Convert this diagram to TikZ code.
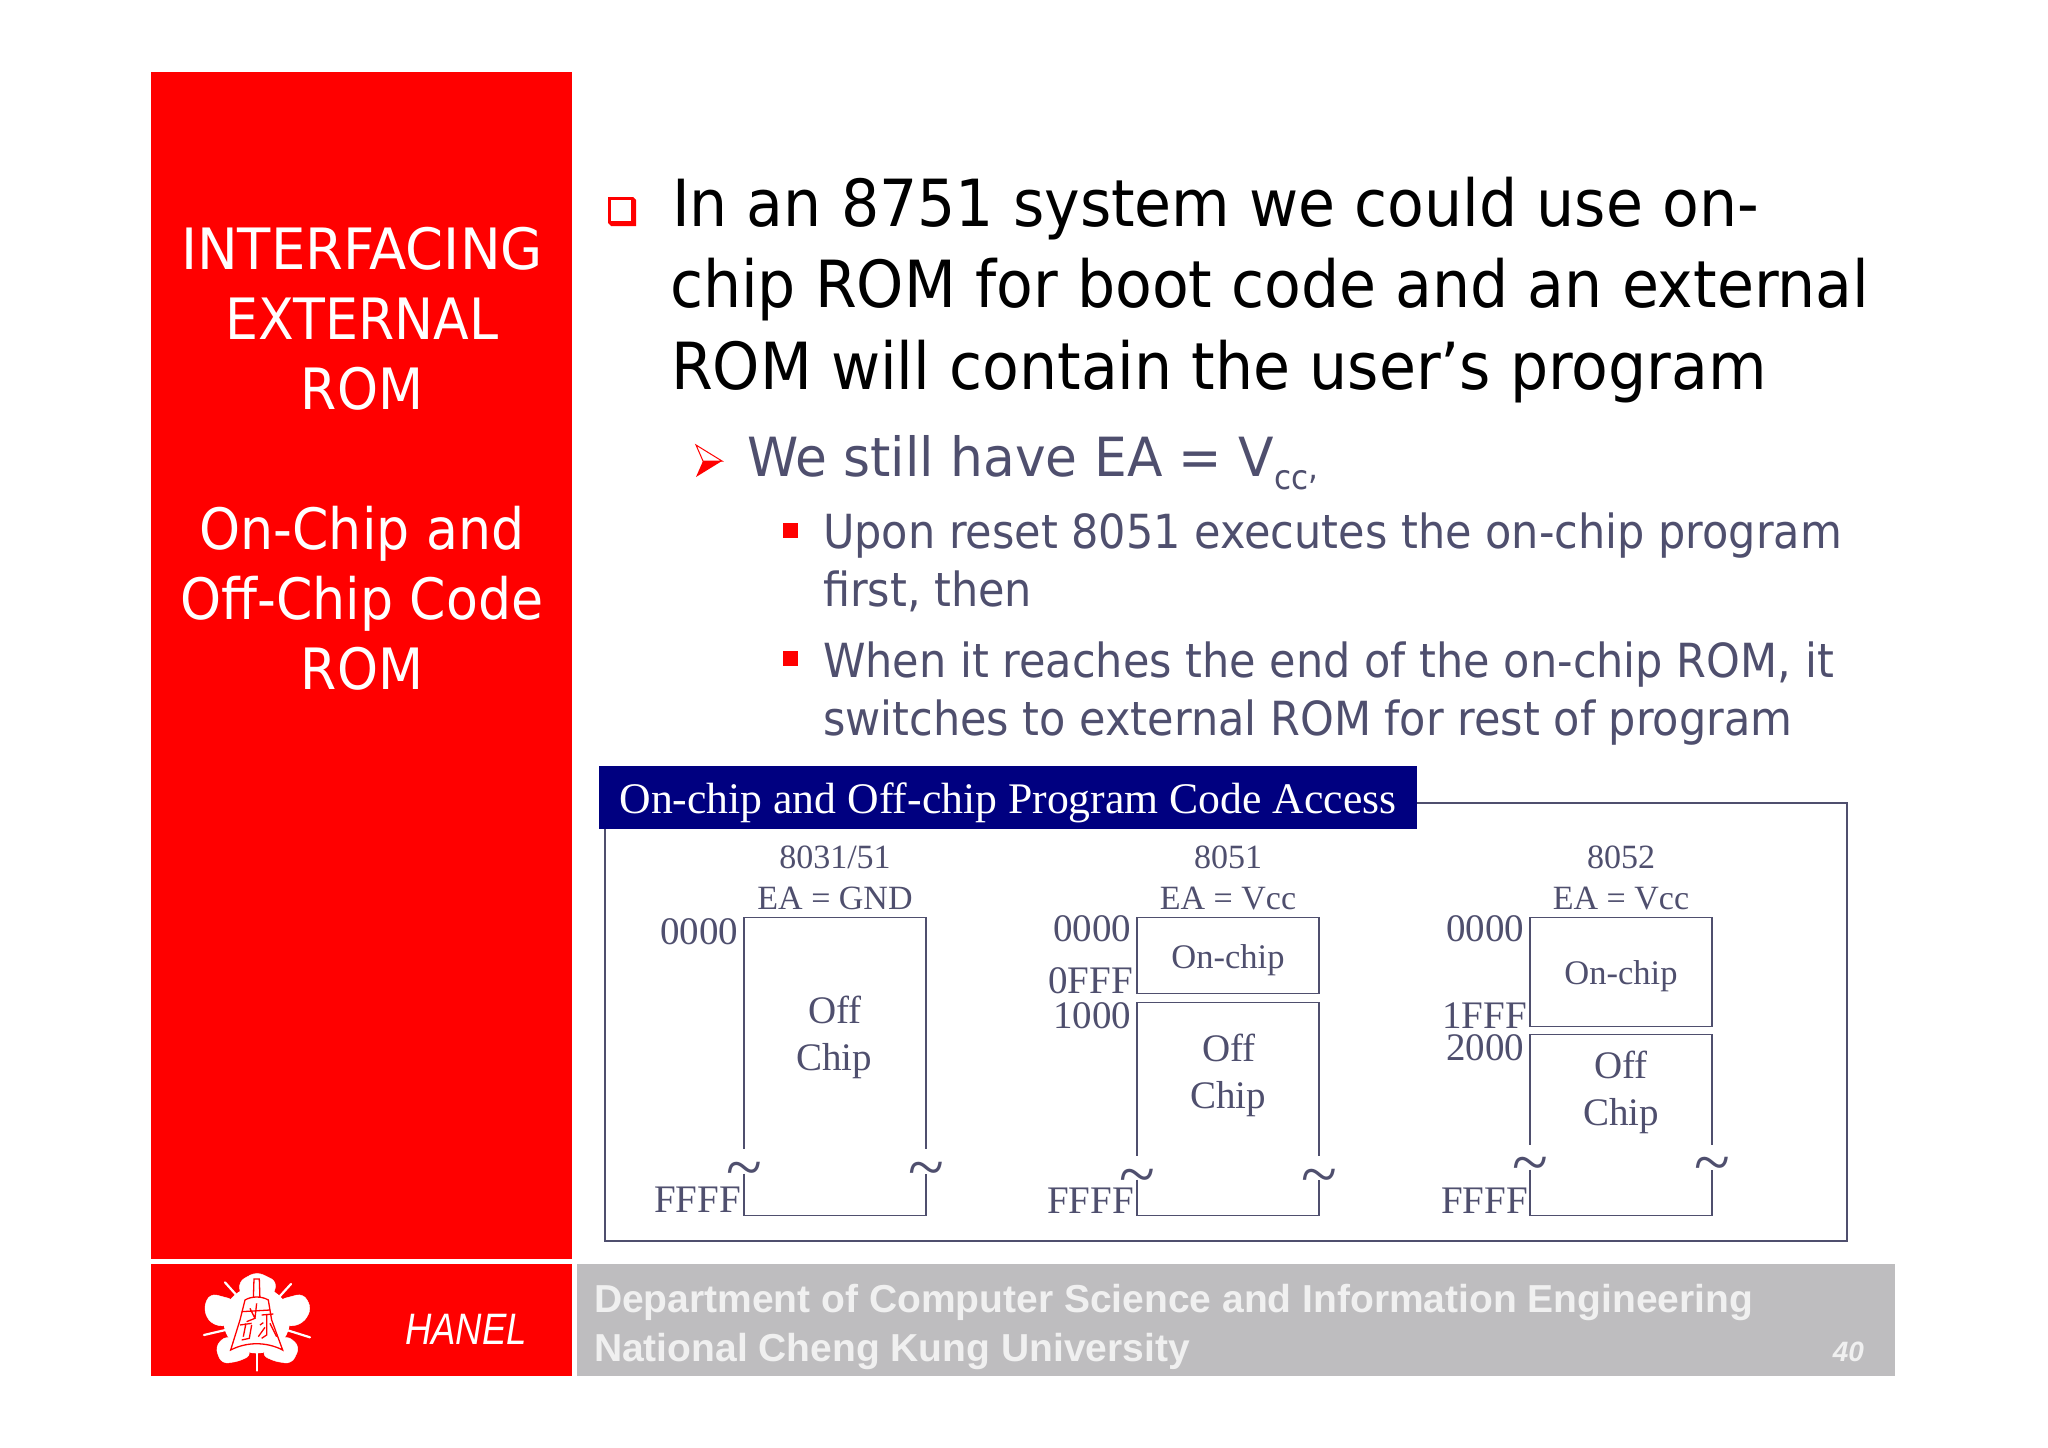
\documentclass[tikz,border=0pt]{standalone}
\usepackage{fontspec}
\setmainfont{Liberation Serif}
\newfontfamily\tahA[FakeStretch=0.925]{DejaVu Sans}
\newfontfamily\tahB[FakeStretch=0.96]{DejaVu Sans}
\newfontfamily\tahC[FakeStretch=0.915]{DejaVu Sans}
\newfontfamily\tahS[FakeStretch=0.915]{DejaVu Sans}
\newfontfamily\tahW[FakeStretch=0.955]{DejaVu Sans}
\newfontfamily\arialb{Liberation Sans}
\newfontfamily\arialn[FakeStretch=0.83]{Liberation Sans}
\newcommand{\fs}[1]{\fontsize{#1}{#1}\selectfont}
\definecolor{slate}{HTML}{4F4F6E}
\definecolor{navyb}{HTML}{000080}
\definecolor{footg}{HTML}{BEBDBF}
\definecolor{redp}{HTML}{FF0000}
\tikzset{
 txt/.style={inner sep=0pt,outer sep=0pt,anchor=base west},
 l1/.style={txt,font=\tahA\fs{65},text=black},
 l2/.style={txt,font=\tahB\fs{54},text=slate},
 l3/.style={txt,font=\tahC\fs{47},text=slate},
 side/.style={inner sep=0pt,outer sep=0pt,anchor=base,font=\tahS\fs{57},text=white},
 addr/.style={inner sep=0pt,outer sep=0pt,anchor=base east,font=\fs{39},text=slate},
 head/.style={inner sep=0pt,outer sep=0pt,anchor=base,font=\fs{34},text=slate},
 chip/.style={inner sep=0pt,outer sep=0pt,anchor=base,font=\fs{39},text=slate},
 onc/.style={inner sep=0pt,outer sep=0pt,anchor=base,font=\fs{34.5},text=slate},
 brk/.style={inner sep=0pt,outer sep=0pt,anchor=center,font=\fs{66},text=slate},
 mem/.style={draw=slate,line width=1.6pt},
 foot/.style={inner sep=0pt,outer sep=0pt,anchor=base west,font=\arialb\bfseries\fs{39},text=white!94!black},
 lg/.style={draw=white,line width=2.2pt,line cap=round},
 lr/.style={draw=redp,line width=1.3pt},
 petal/.style={fill=white,draw=white,rounded corners=7pt},
}
\begin{document}
\begin{tikzpicture}[x=1pt,y=-1pt]
\useasboundingbox[fill=white] (0,0) rectangle (2048,1448);
% panels
\fill[redp] (151,72) rectangle (572,1259);
\fill[redp] (151,1264) rectangle (572,1376);
\fill[footg] (577,1264) rectangle (1895,1376);
% side text
\node[side,font=\tahW\fs{57}] (s1) at (362,269) {INTERFACING};
\node[side] (s2) at (362,339) {EXTERNAL};
\node[side] (s3) at (362,409) {ROM};
\node[side] (s4) at (362,549) {On-Chip and};
\node[side] (s5) at (362,619) {Off-Chip Code};
\node[side] (s6) at (362,689) {ROM};
% body text
\node[l1] (a1) at (672,226) {In an 8751 system we could use on-};
\node[l1] (a2) at (670,307) {chip ROM for boot code and an external};
\node[l1] (a3) at (671,389) {ROM will contain the user’s program};
\node[l2] (b1) at (747,476) {We still have EA = V\raisebox{-13pt}{\tahC\fs{34}cc}\raisebox{-3pt}{\tahC\fs{34},}};
\node[l3] (c1) at (823,548) {Upon reset 8051 executes the on-chip program};
\node[l3] (c2) at (823,606) {first, then};
\node[l3] (c3) at (823,677) {When it reaches the end of the on-chip ROM, it};
\node[l3] (c4) at (823,735) {switches to external ROM for rest of program};
% bullets
\fill[redp] (608,197) -- (633,197) -- (636,200) -- (636,226) -- (611,226) -- (608,223) -- cycle;
\fill[white] (611,200) rectangle (631,221);
\draw[redp,line width=1pt,fill=white] (696,445) -- (722,461) -- (703,461) -- cycle;
\fill[redp] (696,477) -- (722,461) -- (703,461) -- cycle;
\fill[redp] (783,523) rectangle (798,538);
\fill[redp] (783,651) rectangle (798,666);
% frame
\draw[mem] (605,803) rectangle (1847,1241);
\fill[navyb] (599,766) rectangle (1417,829);
\node[inner sep=0pt,outer sep=0pt,anchor=base,font=\fs{43.7},text=white] (title) at (1008,813) {On-chip and Off-chip Program Code Access};
\begin{scope}[yshift=-1.5pt]
% column 1
\node[head] (h1a) at (835,867) {8031/51};
\node[head] (h1b) at (835,908) {EA = GND};
\node[addr] (a10) at (738,943) {0000};
\node[addr] (a1f) at (741,1211) {FFFF};
\draw[mem] (744,1147) -- (744,916) -- (926,916) -- (926,1147);
\draw[mem] (744,1172) -- (744,1214) -- (926,1214) -- (926,1172);
\node[chip] (o1) at (835,1022) {Off};
\node[chip] (p1) at (834,1069) {Chip};
\node[brk] (t1a) at (744,1174) {\char"7E};
\node[brk] (t1b) at (926,1174) {\char"7E};
% column 2
\node[head] (h2a) at (1228,867) {8051};
\node[head] (h2b) at (1228,908) {EA = Vcc};
\node[addr] (a20) at (1131,940) {0000};
\node[addr] (a2f) at (1133,992) {0FFF};
\node[addr] (a21) at (1131,1027) {1000};
\node[addr] (a2e) at (1134,1212) {FFFF};
\draw[mem] (1137,916) rectangle (1319,992);
\draw[mem] (1137,1154) -- (1137,1001) -- (1319,1001) -- (1319,1154);
\draw[mem] (1137,1178) -- (1137,1214) -- (1319,1214) -- (1319,1178);
\node[onc] (n2) at (1228,967) {On-chip};
\node[chip] (o2) at (1229,1060) {Off};
\node[chip] (p2) at (1228,1107) {Chip};
\node[brk] (t2a) at (1137,1181) {\char"7E};
\node[brk] (t2b) at (1319,1181) {\char"7E};
% column 3
\node[head] (h3a) at (1621,867) {8052};
\node[head] (h3b) at (1621,908) {EA = Vcc};
\node[addr] (a30) at (1524,940) {0000};
\node[addr] (a3f) at (1527,1027) {1FFF};
\node[addr] (a31) at (1524,1059) {2000};
\node[addr] (a3e) at (1528,1212) {FFFF};
\draw[mem] (1530,916) rectangle (1712,1025);
\draw[mem] (1530,1143) -- (1530,1033) -- (1712,1033) -- (1712,1143);
\draw[mem] (1530,1168) -- (1530,1214) -- (1712,1214) -- (1712,1168);
\node[onc] (n3) at (1621,983) {On-chip};
\node[chip] (o3) at (1621,1077) {Off};
\node[chip] (p3) at (1621,1124) {Chip};
\node[brk] (t3a) at (1530,1169) {\char"7E};
\node[brk] (t3b) at (1712,1169) {\char"7E};
\end{scope}
% footer
\node[foot] (f1) at (594,1312) {Department of Computer Science and Information Engineering};
\node[foot] (f2) at (594,1361) {National Cheng Kung University};
\node[inner sep=0pt,outer sep=0pt,anchor=base east,font=\arialb\bfseries\itshape\fs{28},text=white!94!black] (pg) at (1864,1361) {40};
\node[inner sep=0pt,outer sep=0pt,anchor=base west,font=\arialn\itshape\fs{44},text=white] (han) at (405,1344) {HANEL};
% logo
\begin{scope}[shift={(140,1240)},x=0.3333pt,y=-0.3333pt]
\fill[petal] (295,125) -- (350,95) -- (412,125) -- (395,178) -- (305,178) -- cycle;
\fill[petal] (415,180) -- (490,160) -- (515,205) -- (490,250) -- (440,262) -- cycle;
\fill[petal] (285,180) -- (210,160) -- (190,205) -- (210,250) -- (260,262) -- cycle;
\fill[petal] (440,285) -- (480,320) -- (455,372) -- (395,362) -- (362,340) -- cycle;
\fill[petal] (260,285) -- (225,320) -- (245,372) -- (305,362) -- (338,340) -- cycle;
\fill[white] (350,240) circle (100);
\draw[lg] (255,127) -- (298,175);
\draw[lg] (453,132) -- (412,177);
\draw[lg] (192,285) -- (265,268);
\draw[lg] (510,292) -- (440,270);
\draw[lg] (350,335) -- (350,392);
\draw[lr,fill=white] (342,117) -- (358,117) -- (360,180) -- (340,180) -- cycle;
\draw[lr,fill=white] (315,180) .. controls (335,168) and (365,168) .. (385,180) -- (395,240) -- (428,330) .. controls (380,305) and (320,305) .. (272,330) -- (300,240) -- cycle;
\draw[lr] (305,215) -- (390,210) (350,190) -- (345,235) (330,205) -- (345,235) -- (320,245)
 (300,255) -- (335,250) (318,250) -- (310,290) (335,255) -- (328,295) -- (305,300)
 (365,225) -- (400,222) (380,222) -- (380,285) -- (365,295) (360,255) -- (370,248) (390,250) -- (410,290) (355,290) -- (375,262);
\end{scope}
\end{tikzpicture}
\end{document}
